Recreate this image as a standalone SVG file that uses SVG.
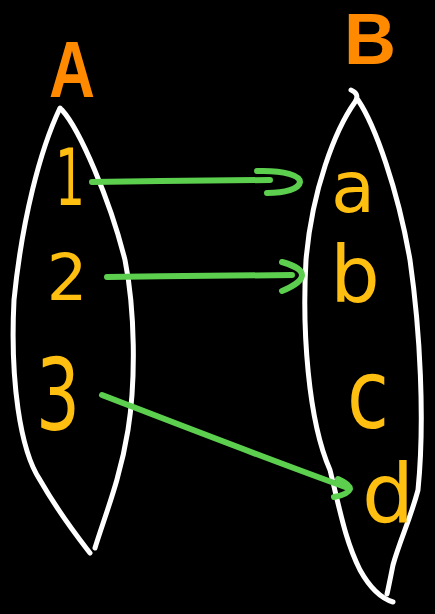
<svg xmlns="http://www.w3.org/2000/svg" width="435" height="614" viewBox="0 0 435 614">
<style>
.lens{fill:none;stroke:#ffffff;stroke-width:5;stroke-linecap:round;stroke-linejoin:round}
.title{font-family:"Liberation Sans",sans-serif;font-weight:bold;fill:#ff8a00;text-anchor:middle}
.el{font-family:"DejaVu Sans",sans-serif;fill:#ffbf10;text-anchor:middle}
.arr{fill:none;stroke:#5ccf4f;stroke-width:6;stroke-linecap:round;stroke-linejoin:round}
</style>
<rect width="435" height="614" fill="#000000"/>
<g id="setA">
<path class="lens" d="M60,108 C40,150 22,220 14,300 C10,380 20,450 40,480 C60,515 80,540 90,553"/>
<path class="lens" d="M62,110 C80,130 110,200 125,260 C135,310 136,380 128,430 C120,480 105,515 95,548"/>
<text class="title" x="72" y="97" font-size="80" textLength="46" lengthAdjust="spacingAndGlyphs">A</text>
</g>
<g id="setB">
<path class="lens" d="M351,90 C356,92 359,96 355,102 C335,130 312,190 306,260 C302,330 308,420 330,470 C340,510 345,540 360,570 C370,588 380,598 393,602"/>
<path class="lens" d="M358,100 C375,125 398,190 410,260 C420,330 425,420 418,490 C410,520 400,540 393,565 C390,580 388,590 387,594"/>
<text class="title" x="370" y="64" font-size="72">B</text>
</g>
<g id="el-1"><text class="el" x="70" y="205" font-size="78" textLength="30" lengthAdjust="spacingAndGlyphs">1</text></g>
<g id="el-2"><text class="el" x="67" y="300" font-size="64">2</text></g>
<g id="el-3"><text class="el" x="58" y="430" font-size="100" textLength="44" lengthAdjust="spacingAndGlyphs">3</text></g>
<g id="el-a"><text class="el" x="353" y="212" font-size="72">a</text></g>
<g id="el-b"><text class="el" x="355" y="302" font-size="78">b</text></g>
<g id="el-c"><text class="el" x="368" y="428" font-size="96" textLength="42" lengthAdjust="spacingAndGlyphs">c</text></g>
<g id="el-d"><text class="el" x="388" y="522" font-size="82">d</text></g>
<g id="connectors">
<path class="arr" d="M92,182 C150,181 220,180 270,180"/>
<path class="arr" d="M257,171 C285,170 300,176 300,182 C299,189 285,193 267,193"/>
<path class="arr" d="M107,277 C170,276 240,276 292,275"/>
<path class="arr" d="M282,262 C293,265 302,270 302,275 C302,281 292,287 282,291"/>
<path class="arr" d="M102,395 C180,425 270,460 348,488"/>
<path class="arr" d="M338,479 C345,482 350,485 350,489 C348,494 340,496 334,497"/>
</g>
</svg>
